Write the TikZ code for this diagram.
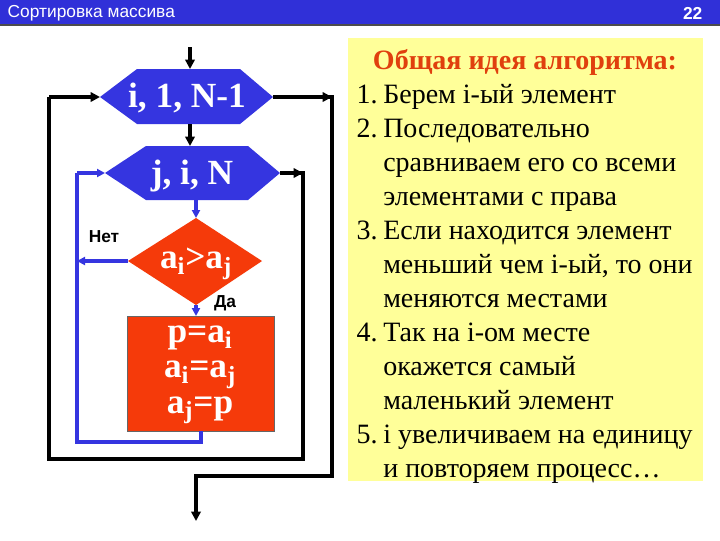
\documentclass[tikz,border=0pt]{standalone}
\usepackage{fontspec}
\setmainfont{Liberation Serif}
\newfontfamily\hv{Liberation Sans}
\usetikzlibrary{arrows.meta}
\definecolor{hdr}{HTML}{3030D8}
\definecolor{fblue}{HTML}{3535E0}
\definecolor{fred}{HTML}{F53A0A}
\definecolor{pyel}{HTML}{FFFF99}
\definecolor{ttl}{HTML}{E0400E}
\begin{document}
\begin{tikzpicture}[x=0.75pt,y=-0.75pt,
  blk/.style={line width=2.4pt,-{Triangle[length=7pt,width=7pt]}},
  blkn/.style={line width=2.4pt},
  bl/.style={draw=fblue,line width=2.6pt,-{Triangle[length=6pt,width=6pt]}},
  bln/.style={draw=fblue,line width=2.6pt},
  lbl/.style={text=white,font=\bfseries\fontsize{26.5}{28}\selectfont},
  tx/.style={anchor=base west,font=\fontsize{21}{24}\selectfont}]
\useasboundingbox (0,0) rectangle (720,540);
\fill[white] (0,0) rectangle (720,540);
% header
\fill[hdr] (0,0) rectangle (720,25);
\draw[black!70,line width=1pt] (0,25) -- (720,25);
\node[anchor=west,text=white,font=\hv\fontsize{13}{14}\selectfont] (h1) at (3,13) {Сортировка массива};
\node[anchor=east,text=white,font=\hv\bfseries\fontsize{13}{14}\selectfont] (h2) at (707,13) {22};
% panel
\fill[pyel] (348,38) rectangle (703,481);
\node[anchor=base,text=ttl,font=\bfseries\fontsize{21}{24}\selectfont] (t0) at (525,69) {Общая идея алгоритма:};
\foreach \y/\n/\t in {103/1./{Берем i-ый элемент},137/2./{Последовательно},171//{сравниваем его со всеми},205//{элементами с права},239/3./{Если находится элемент},273//{меньший чем i-ый, то они},307//{меняются местами},341/4./{Так на i-ом месте},375//{окажется самый},409//{маленький элемент},443/5./{i увеличиваем на единицу},477//{и повторяем процесс…}}{
  \node[anchor=base east,inner xsep=0pt,font=\fontsize{21}{24}\selectfont] at (378,\y) {\n};
  \node[tx,inner xsep=0pt] at (383,\y) {\t};
}
% hexagon 1
\fill[fblue] (100,97)--(137,69)--(240,69)--(273,97)--(240,124)--(137,124)--cycle;
\node[lbl] (hexA) at (187,98) {i, 1, N-1};
\coordinate (aT) at (190,69); \coordinate (aB) at (190,124);
\coordinate (aL) at (100,97); \coordinate (aR) at (273,97);
% hexagon 2
\fill[fblue] (105,173)--(146,146)--(248,146)--(280,173)--(248,200)--(146,200)--cycle;
\node[lbl] (hexB) at (192,176) {j, i, N};
\coordinate (bT) at (190,146); \coordinate (bB) at (196,200);
\coordinate (bL) at (105,173); \coordinate (bR) at (280,173);
% diamond
\fill[fred] (196,218)--(262,261)--(196,305)--(128,261)--cycle;
\node[lbl] (dia) at (196,264) {a\textsubscript{i}>a\textsubscript{j}};
\coordinate (dT) at (196,218); \coordinate (dB) at (196,305); \coordinate (dL) at (128,261);
% box
\fill[fred] (127,316) rectangle (274,431);
\draw[black!60,line width=0.6pt] (127,316) rectangle (274,431);
\node[lbl,align=center,font=\bfseries\fontsize{26.5}{26.5}\selectfont] (box) at (200,375) {p=a\textsubscript{i}\\a\textsubscript{i}=a\textsubscript{j}\\a\textsubscript{j}=p};
\coordinate (xT) at (196,316); \coordinate (xB) at (201,431);
% labels
\node[font=\hv\bfseries\fontsize{13}{14}\selectfont] (net) at (104,237) {Нет};
\node[font=\hv\bfseries\fontsize{13}{14}\selectfont] (da) at (225,303) {Да};
% connectors
\coordinate (in) at (190,47);
\draw[blk] (in) -- (aT);
\draw[blk] (aB) -- (bT);
\draw[bl] (bB) -- (dT);
\draw[bl] (dB) -- (xT);
\draw[bl] (dL) -- (77,261);
\draw[bln] (xB) |- (77,442) -- (77,173);
\draw[bl] (77,173) -- (bL);
\draw[blkn] (bR) -- (303,173) -- (303,459) -- (49,459) -- (49,97);
\draw[blk] (49,97) -- (aL);
\draw[blk] (bR) -- (303,173);
\draw[blkn] (aR) -- (332,97) -- (332,476) -- (196,476) -- (196,505);
\draw[blk] (aR) -- (332,97);
\coordinate (out) at (196,521);
\draw[blk] (196,505) -- (out);
\end{tikzpicture}
\end{document}
